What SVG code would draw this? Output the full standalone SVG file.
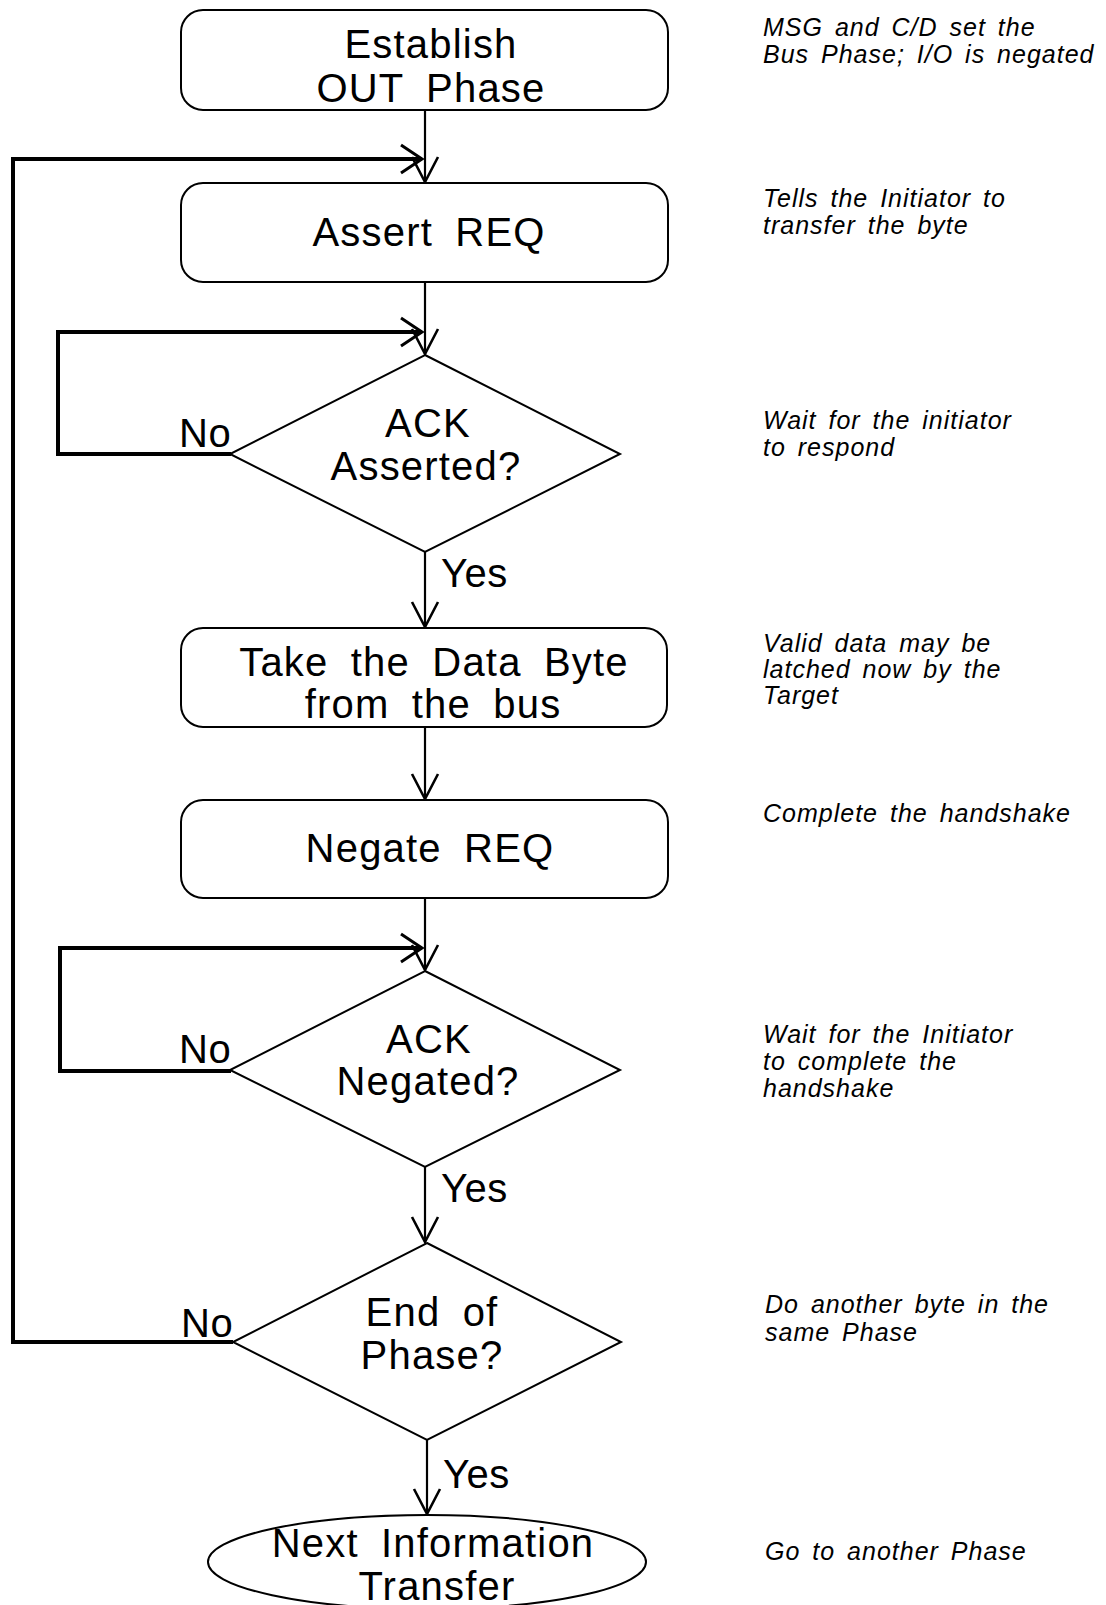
<svg xmlns="http://www.w3.org/2000/svg" width="1106" height="1605" viewBox="0 0 1106 1605">
<style>
.box{fill:#fff;stroke:#000;stroke-width:2}
.dia{fill:#fff;stroke:#000;stroke-width:2}
.lbl{font-family:"Liberation Sans",Arial,sans-serif;font-size:40px;letter-spacing:1.2px;word-spacing:10px;text-anchor:middle;fill:#000}
.yn{font-family:"Liberation Sans",Arial,sans-serif;font-size:40px;letter-spacing:0.5px;fill:#000}
.note{font-family:"Liberation Sans",Arial,sans-serif;font-size:25px;font-style:italic;letter-spacing:1px;word-spacing:4px;fill:#000}
.ln{fill:none;stroke:#000;stroke-width:2.2}
.loop{fill:none;stroke:#000;stroke-width:4}
</style>
<defs>
<marker id="ah" markerUnits="userSpaceOnUse" viewBox="-30 -16 34 32" markerWidth="34" markerHeight="32" refX="0" refY="0" orient="auto" overflow="visible">
<path d="M-25,-13 L0,0 L-25,13" fill="none" stroke="#000" stroke-width="2.6"/>
</marker>
<marker id="ahl" markerUnits="userSpaceOnUse" viewBox="-30 -16 34 32" markerWidth="34" markerHeight="32" refX="0" refY="0" orient="auto" overflow="visible">
<path d="M-21,-14 L0,0 L-21,14" fill="none" stroke="#000" stroke-width="3"/>
</marker>
</defs>
<rect width="1106" height="1605" fill="#fff"/>

<g id="connectors">
<line class="ln" x1="425" y1="110" x2="425" y2="182" marker-end="url(#ah)"/>
<line class="ln" x1="425" y1="282" x2="425" y2="354" marker-end="url(#ah)"/>
<line class="ln" x1="425" y1="552" x2="425" y2="627" marker-end="url(#ah)"/>
<line class="ln" x1="425" y1="727" x2="425" y2="799" marker-end="url(#ah)"/>
<line class="ln" x1="425" y1="898" x2="425" y2="970" marker-end="url(#ah)"/>
<line class="ln" x1="425" y1="1167" x2="425" y2="1242" marker-end="url(#ah)"/>
<line class="ln" x1="427" y1="1440" x2="427" y2="1514" marker-end="url(#ah)"/>
<polyline class="loop" points="231,454 58,454 58,332 422,332" marker-end="url(#ahl)"/>
<polyline class="loop" points="231,1071 60,1071 60,948 422,948" marker-end="url(#ahl)"/>
<polyline class="loop" points="233,1342 13,1342 13,159 422,159" marker-end="url(#ahl)"/>
<text class="yn" x="179" y="447">No</text>
<text class="yn" x="441" y="587">Yes</text>
<text class="yn" x="179" y="1063">No</text>
<text class="yn" x="441" y="1202">Yes</text>
<text class="yn" x="181" y="1337">No</text>
<text class="yn" x="443" y="1488">Yes</text>
</g>

<g id="establish">
<rect class="box" x="181" y="10" width="487" height="100" rx="22"/>
<text class="lbl" x="431" y="58">Establish</text>
<text class="lbl" x="431" y="102">OUT Phase</text>
</g>
<g id="assert-req">
<rect class="box" x="181" y="183" width="487" height="99" rx="22"/>
<text class="lbl" x="429" y="246">Assert REQ</text>
</g>
<g id="ack-asserted">
<polygon class="dia" points="425,355 620,454 425,552 230,454"/>
<text class="lbl" x="428" y="437">ACK</text>
<text class="lbl" x="426" y="480">Asserted?</text>
</g>
<g id="take-data">
<rect class="box" x="181" y="628" width="486" height="99" rx="22"/>
<text class="lbl" x="434" y="676">Take the Data Byte</text>
<text class="lbl" x="433" y="718">from the bus</text>
</g>
<g id="negate-req">
<rect class="box" x="181" y="800" width="487" height="98" rx="22"/>
<text class="lbl" x="430" y="862">Negate REQ</text>
</g>
<g id="ack-negated">
<polygon class="dia" points="425,971 620,1070 425,1167 230,1070"/>
<text class="lbl" x="429" y="1053">ACK</text>
<text class="lbl" x="428" y="1095">Negated?</text>
</g>
<g id="end-of-phase">
<polygon class="dia" points="427,1243 621,1342 427,1440 233,1342"/>
<text class="lbl" x="432" y="1326">End of</text>
<text class="lbl" x="432" y="1369">Phase?</text>
</g>
<g id="next-transfer">
<ellipse class="box" cx="427" cy="1562" rx="219" ry="47"/>
<text class="lbl" x="433" y="1557">Next Information</text>
<text class="lbl" x="437" y="1600">Transfer</text>
</g>

<g id="notes">
<text class="note" x="763" y="36">MSG and C/D set the</text>
<text class="note" x="763" y="63">Bus Phase; I/O is negated</text>
<text class="note" x="763" y="207">Tells the Initiator to</text>
<text class="note" x="763" y="234">transfer the byte</text>
<text class="note" x="763" y="429">Wait for the initiator</text>
<text class="note" x="763" y="456">to respond</text>
<text class="note" x="763" y="652">Valid data may be</text>
<text class="note" x="763" y="678">latched now by the</text>
<text class="note" x="763" y="704">Target</text>
<text class="note" x="763" y="822">Complete the handshake</text>
<text class="note" x="763" y="1043">Wait for the Initiator</text>
<text class="note" x="763" y="1070">to complete the</text>
<text class="note" x="763" y="1097">handshake</text>
<text class="note" x="765" y="1313">Do another byte in the</text>
<text class="note" x="765" y="1341">same Phase</text>
<text class="note" x="765" y="1560">Go to another Phase</text>
</g>
</svg>
